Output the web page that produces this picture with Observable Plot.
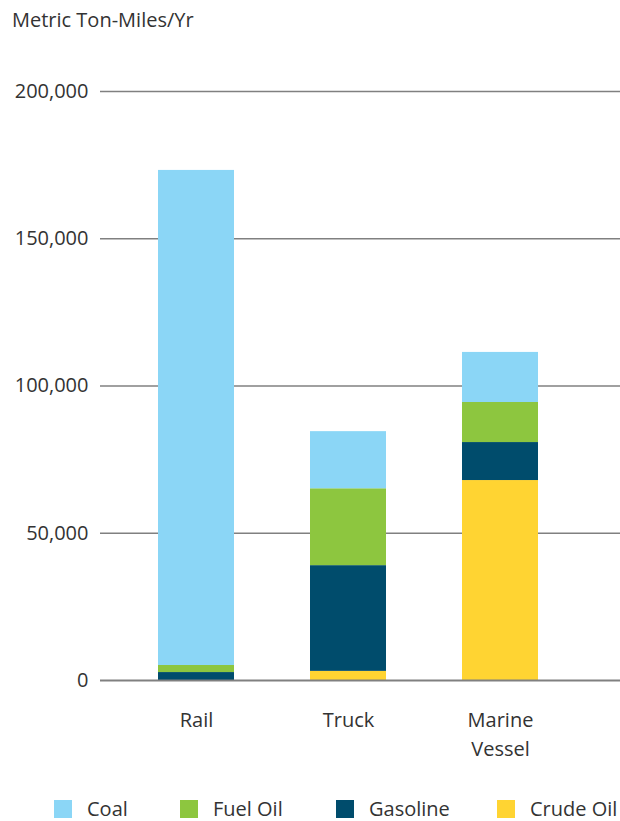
<!DOCTYPE html>
<html>
<head>
<meta charset="utf-8">
<script src="https://cdn.jsdelivr.net/npm/d3@7"></script>
<script src="https://cdn.jsdelivr.net/npm/@observablehq/plot@0.6"></script>
<style>
  html, body { margin: 0; padding: 0; background: #fff; }
  #wrap { position: relative; width: 620px; height: 821px; font-family: "Open Sans", sans-serif; color: #333; }
  #title { position: absolute; left: 12px; top: 10px; font-size: 20px; line-height: 1; white-space: nowrap; }
  #chart { position: absolute; left: 0; top: 0; }
  .lg { position: absolute; top: 799px; display: flex; align-items: center; font-size: 20px; line-height: 1; white-space: nowrap; }
  .lg .sw { width: 18px; height: 18px; margin-right: 15px; }
</style>
</head>
<body>
<div id="wrap">
  <div id="chart"></div>
  <div id="title">Metric Ton-Miles/Yr</div>
  <div id="legend"></div>
</div>
<script>
const categories = ["Rail", "Truck", "Marine Vessel"];
const categoryLabels = ["Rail", "Truck", "Marine\nVessel"];
const fuels = ["Crude Oil", "Gasoline", "Fuel Oil", "Coal"]; // stacking order, bottom to top
const crudeOil = [0, 3100, 67900];
const gasoline = [2700, 35900, 12900];
const fuelOil = [2400, 26100, 13600];
const coal = [168100, 19400, 17000];
const colors = ["#ffd432", "#004c6c", "#8dc63f", "#8bd6f6"];
const legendOrder = ["Coal", "Fuel Oil", "Gasoline", "Crude Oil"];
const legendLeft = [54, 180, 336, 497];
const yTicks = [0, 50000, 100000, 150000, 200000];

const series = [crudeOil, gasoline, fuelOil, coal];
const data = [];
fuels.forEach((f, i) => categories.forEach((c, j) => data.push({category: c, fuel: f, value: series[i][j]})));

const chart = Plot.plot({
  width: 620,
  height: 770,
  marginLeft: 100,
  marginRight: 0,
  marginTop: 91,
  marginBottom: 90,
  style: {fontFamily: "Open Sans, sans-serif", color: "#333", background: "transparent"},
  x: {domain: categories, paddingInner: 0.5, paddingOuter: 0.4605, align: 0.414, label: null},
  y: {domain: [0, 200000], label: null},
  color: {domain: fuels, range: colors},
  marks: [
    Plot.ruleY(yTicks.filter(d => d > 0), {stroke: "#808080", strokeWidth: 1.3, strokeOpacity: 1}),
    Plot.barY(data, {x: "category", y: "value", fill: "fuel", order: fuels}),
    Plot.ruleY([0], {stroke: "#808080", strokeWidth: 2, strokeOpacity: 1}),
    Plot.axisY({ticks: yTicks, tickFormat: d3.format(","), tickSize: 0, tickPadding: 12, fontSize: 20, label: null}),
    Plot.axisX({tickSize: 0, tickPadding: 26, fontSize: 20, lineHeight: 1.45, label: null,
      tickFormat: d => categoryLabels[categories.indexOf(d)]})
  ]
});
document.getElementById("chart").appendChild(chart);

const legend = document.getElementById("legend");
legendOrder.forEach((name, i) => {
  const item = document.createElement("div");
  item.className = "lg";
  item.style.left = legendLeft[i] + "px";
  const sw = document.createElement("div");
  sw.className = "sw";
  sw.style.background = colors[fuels.indexOf(name)];
  const t = document.createElement("span");
  t.textContent = name;
  item.appendChild(sw);
  item.appendChild(t);
  legend.appendChild(item);
});
</script>
</body>
</html>
